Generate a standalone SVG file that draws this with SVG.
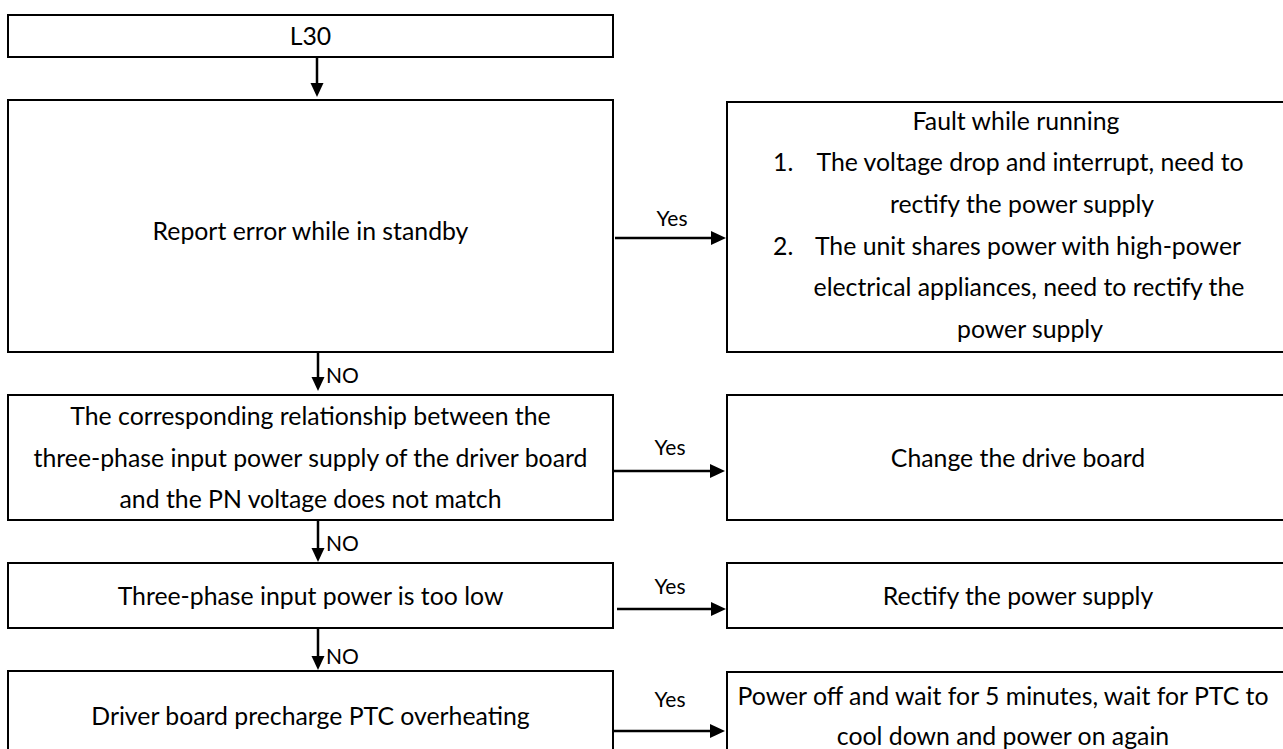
<svg xmlns="http://www.w3.org/2000/svg" width="1283" height="749" viewBox="0 0 1283 749">
<style>
.box{fill:#fff;stroke:#000;stroke-width:2}
.t{font-family:Lato,"Open Sans","Liberation Sans",sans-serif;font-size:24.8px;fill:#000;dominant-baseline:central}
.s{font-size:21px}
.c{text-anchor:middle}
.ln{stroke:#000;stroke-width:2.5;fill:none}
.hd{fill:#000}
</style>
<rect width="1283" height="749" fill="#fff"/>
<g id="n_l30">
<rect class="box" x="8" y="15" width="605" height="42"/>
<text class="t c" x="310.5" y="35">L30</text>
</g>
<g id="n_standby">
<rect class="box" x="8" y="100" width="605" height="252"/>
<text class="t c" x="310.5" y="230">Report error while in standby</text>
</g>
<g id="n_fault">
<rect class="box" x="727" y="102" width="600" height="250"/>
<text class="t c" x="1016" y="120">Fault while running</text>
<text class="t" x="773" y="161">1.</text>
<text class="t c" x="1030" y="161">The voltage drop and interrupt, need to</text>
<text class="t c" x="1022" y="203">rectify the power supply</text>
<text class="t" x="773" y="245">2.</text>
<text class="t c" x="1028" y="245">The unit shares power with high-power</text>
<text class="t c" x="1029" y="286">electrical appliances, need to rectify the</text>
<text class="t c" x="1030" y="328">power supply</text>
</g>
<g id="n_relation">
<rect class="box" x="8" y="395" width="605" height="125"/>
<text class="t c" x="310.5" y="415">The corresponding relationship between the</text>
<text class="t c" x="310.5" y="457">three-phase input power supply of the driver board</text>
<text class="t c" x="310.5" y="498">and the PN voltage does not match</text>
</g>
<g id="n_change">
<rect class="box" x="727" y="395" width="600" height="125"/>
<text class="t c" x="1018" y="457">Change the drive board</text>
</g>
<g id="n_low">
<rect class="box" x="8" y="563" width="605" height="65"/>
<text class="t c" x="310.5" y="595">Three-phase input power is too low</text>
</g>
<g id="n_rectify">
<rect class="box" x="727" y="563" width="600" height="65"/>
<text class="t c" x="1018" y="595">Rectify the power supply</text>
</g>
<g id="n_ptc">
<rect class="box" x="8" y="671" width="605" height="100"/>
<text class="t c" x="310.5" y="715">Driver board precharge PTC overheating</text>
</g>
<g id="n_poweroff">
<rect class="box" x="727" y="672" width="600" height="100"/>
<text class="t c" x="1003" y="695">Power off and wait for 5 minutes, wait for PTC to</text>
<text class="t c" x="1003" y="735">cool down and power on again</text>
</g>
<g id="connectors">
<line class="ln" x1="317" y1="57" x2="317" y2="84"/>
<polygon class="hd" points="310.5,83 323.5,83 317,97"/>
<line class="ln" x1="615" y1="238" x2="712" y2="238"/>
<polygon class="hd" points="711,231 711,245 726,238"/>
<text class="t s c" x="672" y="217">Yes</text>
<line class="ln" x1="318" y1="352" x2="318" y2="378"/>
<polygon class="hd" points="311.5,377 324.5,377 318,391"/>
<text class="t s" x="326" y="374">NO</text>
<line class="ln" x1="613" y1="471" x2="711" y2="471"/>
<polygon class="hd" points="710,464 710,478 725,471"/>
<text class="t s c" x="670" y="446">Yes</text>
<line class="ln" x1="318" y1="520" x2="318" y2="549"/>
<polygon class="hd" points="311.5,548 324.5,548 318,562"/>
<text class="t s" x="326" y="542">NO</text>
<line class="ln" x1="617" y1="609" x2="712" y2="609"/>
<polygon class="hd" points="711,602 711,616 726,609"/>
<text class="t s c" x="670" y="585">Yes</text>
<line class="ln" x1="318" y1="628" x2="318" y2="657"/>
<polygon class="hd" points="311.5,656 324.5,656 318,670"/>
<text class="t s" x="326" y="655">NO</text>
<line class="ln" x1="612" y1="731" x2="711" y2="731"/>
<polygon class="hd" points="710,724 710,738 725,731"/>
<text class="t s c" x="670" y="698">Yes</text>
</g>
</svg>
